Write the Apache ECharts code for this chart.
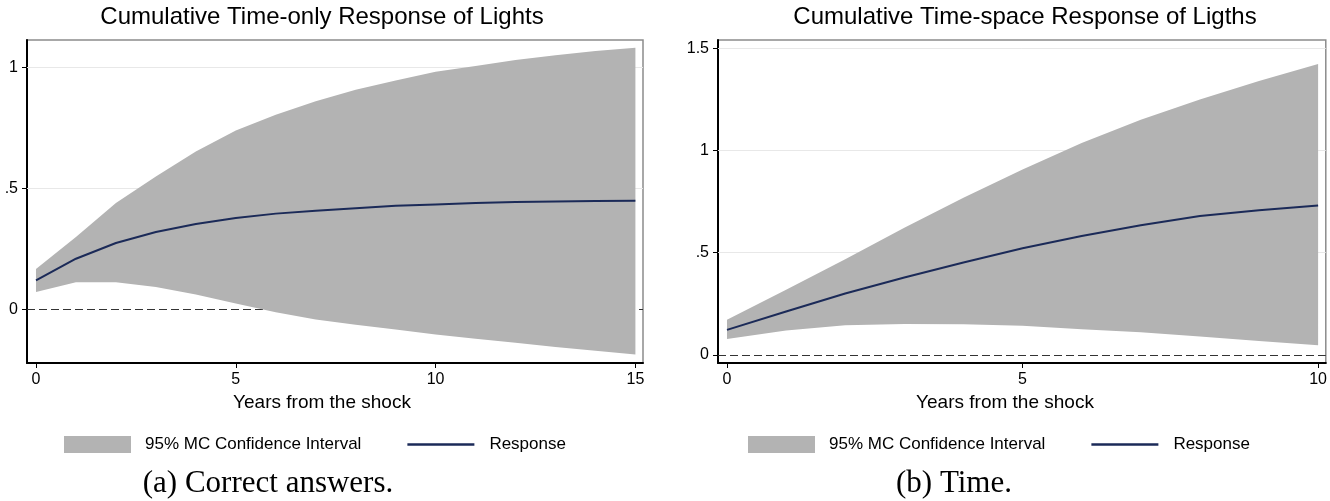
<!DOCTYPE html>
<html><head><meta charset="utf-8">
<script src="https://cdn.jsdelivr.net/npm/echarts@6/dist/echarts.min.js"></script>
<style>html,body{margin:0;padding:0;background:#fff}#c{width:1330px;height:501px}</style>
</head><body><div id="c"></div>
<script>
// ---------- data ----------
const yearsA    = [0,1,2,3,4,5,6,7,8,9,10,11,12,13,14,15];
const responseA = [0.121,0.21,0.275,0.32,0.353,0.378,0.396,0.408,0.418,0.428,0.434,0.44,0.444,0.446,0.448,0.449];
const lowerA    = [0.073,0.113,0.113,0.093,0.062,0.025,-0.011,-0.041,-0.062,-0.082,-0.102,-0.12,-0.137,-0.154,-0.169,-0.185];
const upperA    = [0.168,0.30,0.44,0.549,0.652,0.739,0.804,0.859,0.907,0.945,0.981,1.005,1.03,1.049,1.067,1.08];

const yearsB    = [0,1,2,3,4,5,6,7,8,9,10];
const responseB = [0.122,0.212,0.30,0.378,0.452,0.521,0.581,0.634,0.679,0.707,0.73];
const lowerB    = [0.077,0.119,0.145,0.151,0.15,0.142,0.125,0.111,0.09,0.068,0.047];
const upperB    = [0.171,0.318,0.467,0.622,0.768,0.907,1.036,1.15,1.249,1.34,1.422];

const xTicksA = [0,5,10,15];
const yTicksA = [0,0.5,1];
const xTicksB = [0,5,10];
const yTicksB = [0,0.5,1,1.5];
const gridLinesA = [0.5,1];
const gridLinesB = [0.5,1,1.5];
const zeroLine = 0;

const titleA = 'Cumulative Time-only Response of Lights';
const titleB = 'Cumulative Time-space Response of Ligths';
const xName = 'Years from the shock';
const bandName = '95% MC Confidence Interval';
const lineName = 'Response';
const captionA = '(a) Correct answers.';
const captionB = '(b) Time.';

// ---------- styling ----------
const SANS = 'Liberation Sans, Arial, sans-serif';
const SERIF = 'Liberation Serif, Times New Roman, serif';
const BAND = '#b3b3b3';
const NAVY = '#1b2a58';

function fmtY(v){ if (v === 0) return '0'; return String(v).replace(/^0\./, '.'); }

function xAxis(gi, min, max, ticks){
  return {
    type:'value', gridIndex:gi, min:min, max:max,
    axisLine:{show:true, onZero:false, lineStyle:{color:'#000', width:2}},
    axisTick:{show:true, customValues:ticks, length:5, lineStyle:{color:'#000', width:1}},
    axisLabel:{customValues:ticks, fontFamily:SANS, fontSize:16, color:'#000', margin:9},
    splitLine:{show:false}
  };
}
function yAxis(gi, min, max, ticks){
  return {
    type:'value', gridIndex:gi, min:min, max:max,
    axisLine:{show:true, onZero:false, lineStyle:{color:'#000', width:2}},
    axisTick:{show:true, customValues:ticks, length:5, lineStyle:{color:'#000', width:1}},
    axisLabel:{customValues:ticks, fontFamily:SANS, fontSize:16, color:'#000', margin:9, formatter:fmtY},
    splitLine:{show:false}
  };
}
function panelSeries(i, xs, lo, up, resp, gl){
  const marks = gl.map(v => ({yAxis:v}));
  marks.push({yAxis:zeroLine, lineStyle:{color:'#333', type:[8,4], width:1}});
  return [
    { name:bandName, type:'custom', xAxisIndex:i, yAxisIndex:i, z:10,
      data: xs.map((x,k)=>[x, lo[k], up[k]]),
      encode:{x:0, y:[1,2]},
      itemStyle:{color:BAND},
      renderItem:function(params, api){
        if (params.dataIndex !== 0) return null;
        const top = xs.map((x,k)=>api.coord([x, up[k]]));
        const bot = xs.map((x,k)=>api.coord([x, lo[k]])).reverse();
        return {type:'polygon', shape:{points: top.concat(bot)}, style:{fill:BAND, stroke:null}};
      } },
    { name:lineName, type:'line', xAxisIndex:i, yAxisIndex:i,
      data: xs.map((x,k)=>[x, resp[k]]), symbol:'none', showSymbol:false, z:12,
      lineStyle:{color:NAVY, width:2}, itemStyle:{color:NAVY},
      markLine:{silent:true, symbol:'none', label:{show:false}, z:1,
        lineStyle:{color:'#e8e8e8', width:1, type:'solid'}, data:marks} }
  ];
}
function legend(left){
  return {
    left:left, top:436, padding:0, orient:'horizontal', itemWidth:67, itemHeight:17, itemGap:46,
    selectedMode:false,
    data:[
      {name:bandName, icon:'rect', itemStyle:{color:BAND, borderWidth:0}},
      {name:lineName, icon:'path://M0,0H65V2.4H0Z', itemStyle:{color:NAVY, borderWidth:0},
       textStyle:{padding:[0,0,0,10]}}
    ],
    textStyle:{fontFamily:SANS, fontSize:17, color:'#000', padding:[0,0,0,9]}
  };
}
function txt(x, y, s, font, size){
  return {type:'text', x:x, y:y, silent:true,
    style:{text:s, fontFamily:font, fontSize:size, fill:'#000', textAlign:'center', textVerticalAlign:'middle'}};
}

const chart = echarts.init(document.getElementById('c'), null, {renderer:'canvas'});
chart.setOption({
  animation:false,
  backgroundColor:'#fff',
  grid:[
    {left:27, top:40, width:616, height:323, show:true, borderColor:'#8c8c8c', borderWidth:1.5, backgroundColor:'transparent'},
    {left:718, top:40, width:609, height:323, show:true, borderColor:'#8c8c8c', borderWidth:1.5, backgroundColor:'transparent'}
  ],
  xAxis:[ xAxis(0, -0.225, 15.19, xTicksA), xAxis(1, -0.152, 10.13, xTicksB) ],
  yAxis:[ yAxis(0, -0.22, 1.112, yTicksA), yAxis(1, -0.04, 1.54, yTicksB) ],
  legend:[ legend(64), legend(748) ],
  series:[].concat(
    panelSeries(0, yearsA, lowerA, upperA, responseA, gridLinesA),
    panelSeries(1, yearsB, lowerB, upperB, responseB, gridLinesB)
  ),
  graphic:[
    txt(322, 17, titleA, SANS, 24),
    txt(1025, 17, titleB, SANS, 24),
    txt(322, 403, xName, SANS, 19),
    txt(1005, 403, xName, SANS, 19),
    txt(268, 484, captionA, SERIF, 31),
    txt(954, 484, captionB, SERIF, 31)
  ]
});
</script>
</body></html>
